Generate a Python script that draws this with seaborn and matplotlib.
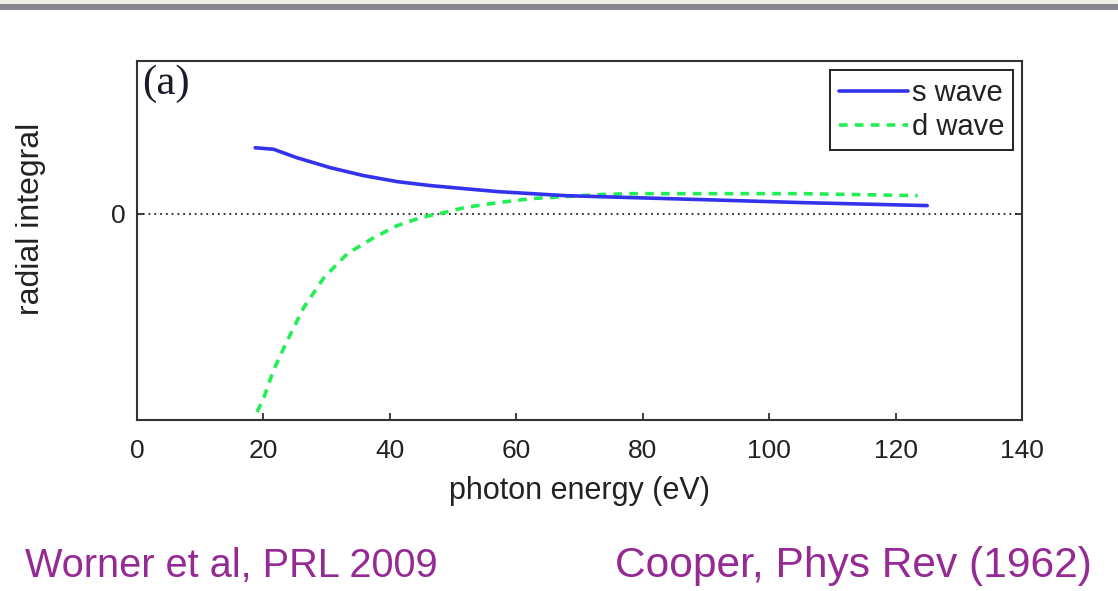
import matplotlib
matplotlib.use("Agg")
import matplotlib.pyplot as plt
import seaborn as sns
import pandas as pd
from matplotlib.patches import Rectangle

# ---- data (y in arbitrary units) ----
s_energy = [18.7, 21.6, 25.3, 30.6, 35.9, 41.2, 46.5, 51.8, 57.1, 62.4, 67.7, 73.0, 78.3, 89.4, 105.2, 125.0]
s_value = [0.66, 0.645, 0.56, 0.46, 0.38, 0.32, 0.28, 0.25, 0.22, 0.20, 0.18, 0.17, 0.16, 0.14, 0.11, 0.08]

d_energy = [19.0, 20.1, 21.6, 23.8, 26.4, 29.6, 33.3, 37.5, 41.2, 44.9, 48.6, 51.8, 57.1, 62.4, 67.7,
            73.0, 78.3, 89.4, 105.2, 123.5]
d_value = [-1.99, -1.84, -1.57, -1.27, -0.94, -0.64, -0.40, -0.24, -0.12, -0.04, 0.01, 0.06, 0.11, 0.15, 0.17,
           0.19, 0.20, 0.20, 0.20, 0.18]

x_ticks = [0, 20, 40, 60, 80, 100, 120, 140]
y_ticks = [0]
series_labels = ["s wave", "d wave"]
x_label = "photon energy (eV)"
y_label = "radial integral"
panel_label = "(a)"
left_note = "Worner et al, PRL 2009"
right_note = "Cooper, Phys Rev (1962)"

sns.set_theme(style="white")
plt.rcParams["font.family"] = ["Liberation Sans", "DejaVu Sans"]

fig = plt.figure(figsize=(11.18, 5.91), dpi=100)
fig.patch.set_facecolor("white")

# top decorative band
fig.patches.append(Rectangle((0, 1 - 4 / 591), 1, 4 / 591, transform=fig.transFigure,
                             facecolor="#f1f0e6", edgecolor="none"))
fig.patches.append(Rectangle((0, 1 - 10 / 591), 1, 6 / 591, transform=fig.transFigure,
                             facecolor="#86868e", edgecolor="none"))

ax = fig.add_axes([137 / 1118, 1 - 420 / 591, (1022 - 137) / 1118, (420 - 61) / 591])

df_s = pd.DataFrame({"energy": s_energy, "value": s_value})
df_d = pd.DataFrame({"energy": d_energy, "value": d_value})

ax.axhline(0, color="#222222", linestyle=(0, (1, 2.2)), linewidth=1.3, zorder=1)
sns.lineplot(data=df_s, x="energy", y="value", ax=ax, color="#3333ee", linewidth=2.6,
             label=series_labels[0], sort=False, zorder=3)
sns.lineplot(data=df_d, x="energy", y="value", ax=ax, color="#22ee55", linewidth=2.6,
             linestyle=(0, (2.4, 2.0)), label=series_labels[1], sort=False, zorder=2)

ax.set_xlim(0, 140)
ax.set_ylim(-2.07, 1.53)
ax.set_xticks(x_ticks)
ax.set_xticklabels([str(t) for t in x_ticks])
ax.set_yticks(y_ticks)
ax.set_yticklabels(["0"])

for side in ["left", "right", "top", "bottom"]:
    ax.spines[side].set_visible(True)
    ax.spines[side].set_color("#333333")
    ax.spines[side].set_linewidth(1.5)

ax.tick_params(axis="x", direction="in", length=5, width=1.3, colors="#333333",
               labelcolor="#222222", labelsize=19, pad=14, bottom=True, top=False)
ax.tick_params(axis="y", direction="in", length=5, width=1.3, colors="#333333",
               labelcolor="#222222", labelsize=19, pad=8, left=True, right=True)

ax.set_xlabel(x_label, fontsize=22, color="#222222", labelpad=9)
ax.set_ylabel(y_label, fontsize=23, color="#222222")
ax.yaxis.set_label_coords(-0.103, 0.56)

ax.text(0.006, 0.99, panel_label, transform=ax.transAxes, ha="left", va="top",
        fontsize=31, family=["Liberation Serif", "DejaVu Serif"], color="#1a1a2a")

leg = ax.legend(loc="upper right", bbox_to_anchor=(0.990, 0.975), borderaxespad=0,
                fontsize=21, frameon=True, fancybox=False, framealpha=1,
                edgecolor="#222222", handlelength=2.35, handletextpad=0.15,
                labelspacing=0.22, borderpad=0.3)
leg.get_frame().set_linewidth(1.4)
for t in leg.get_texts():
    t.set_color("#222222")

fig.text(25 / 1118, 1 - 577 / 591, left_note, ha="left", va="baseline",
         fontsize=28.6, color="#952a94")
fig.text(615 / 1118, 1 - 577 / 591, right_note, ha="left", va="baseline",
         fontsize=30.6, color="#952a94")

fig.savefig("out.png", dpi=100)
